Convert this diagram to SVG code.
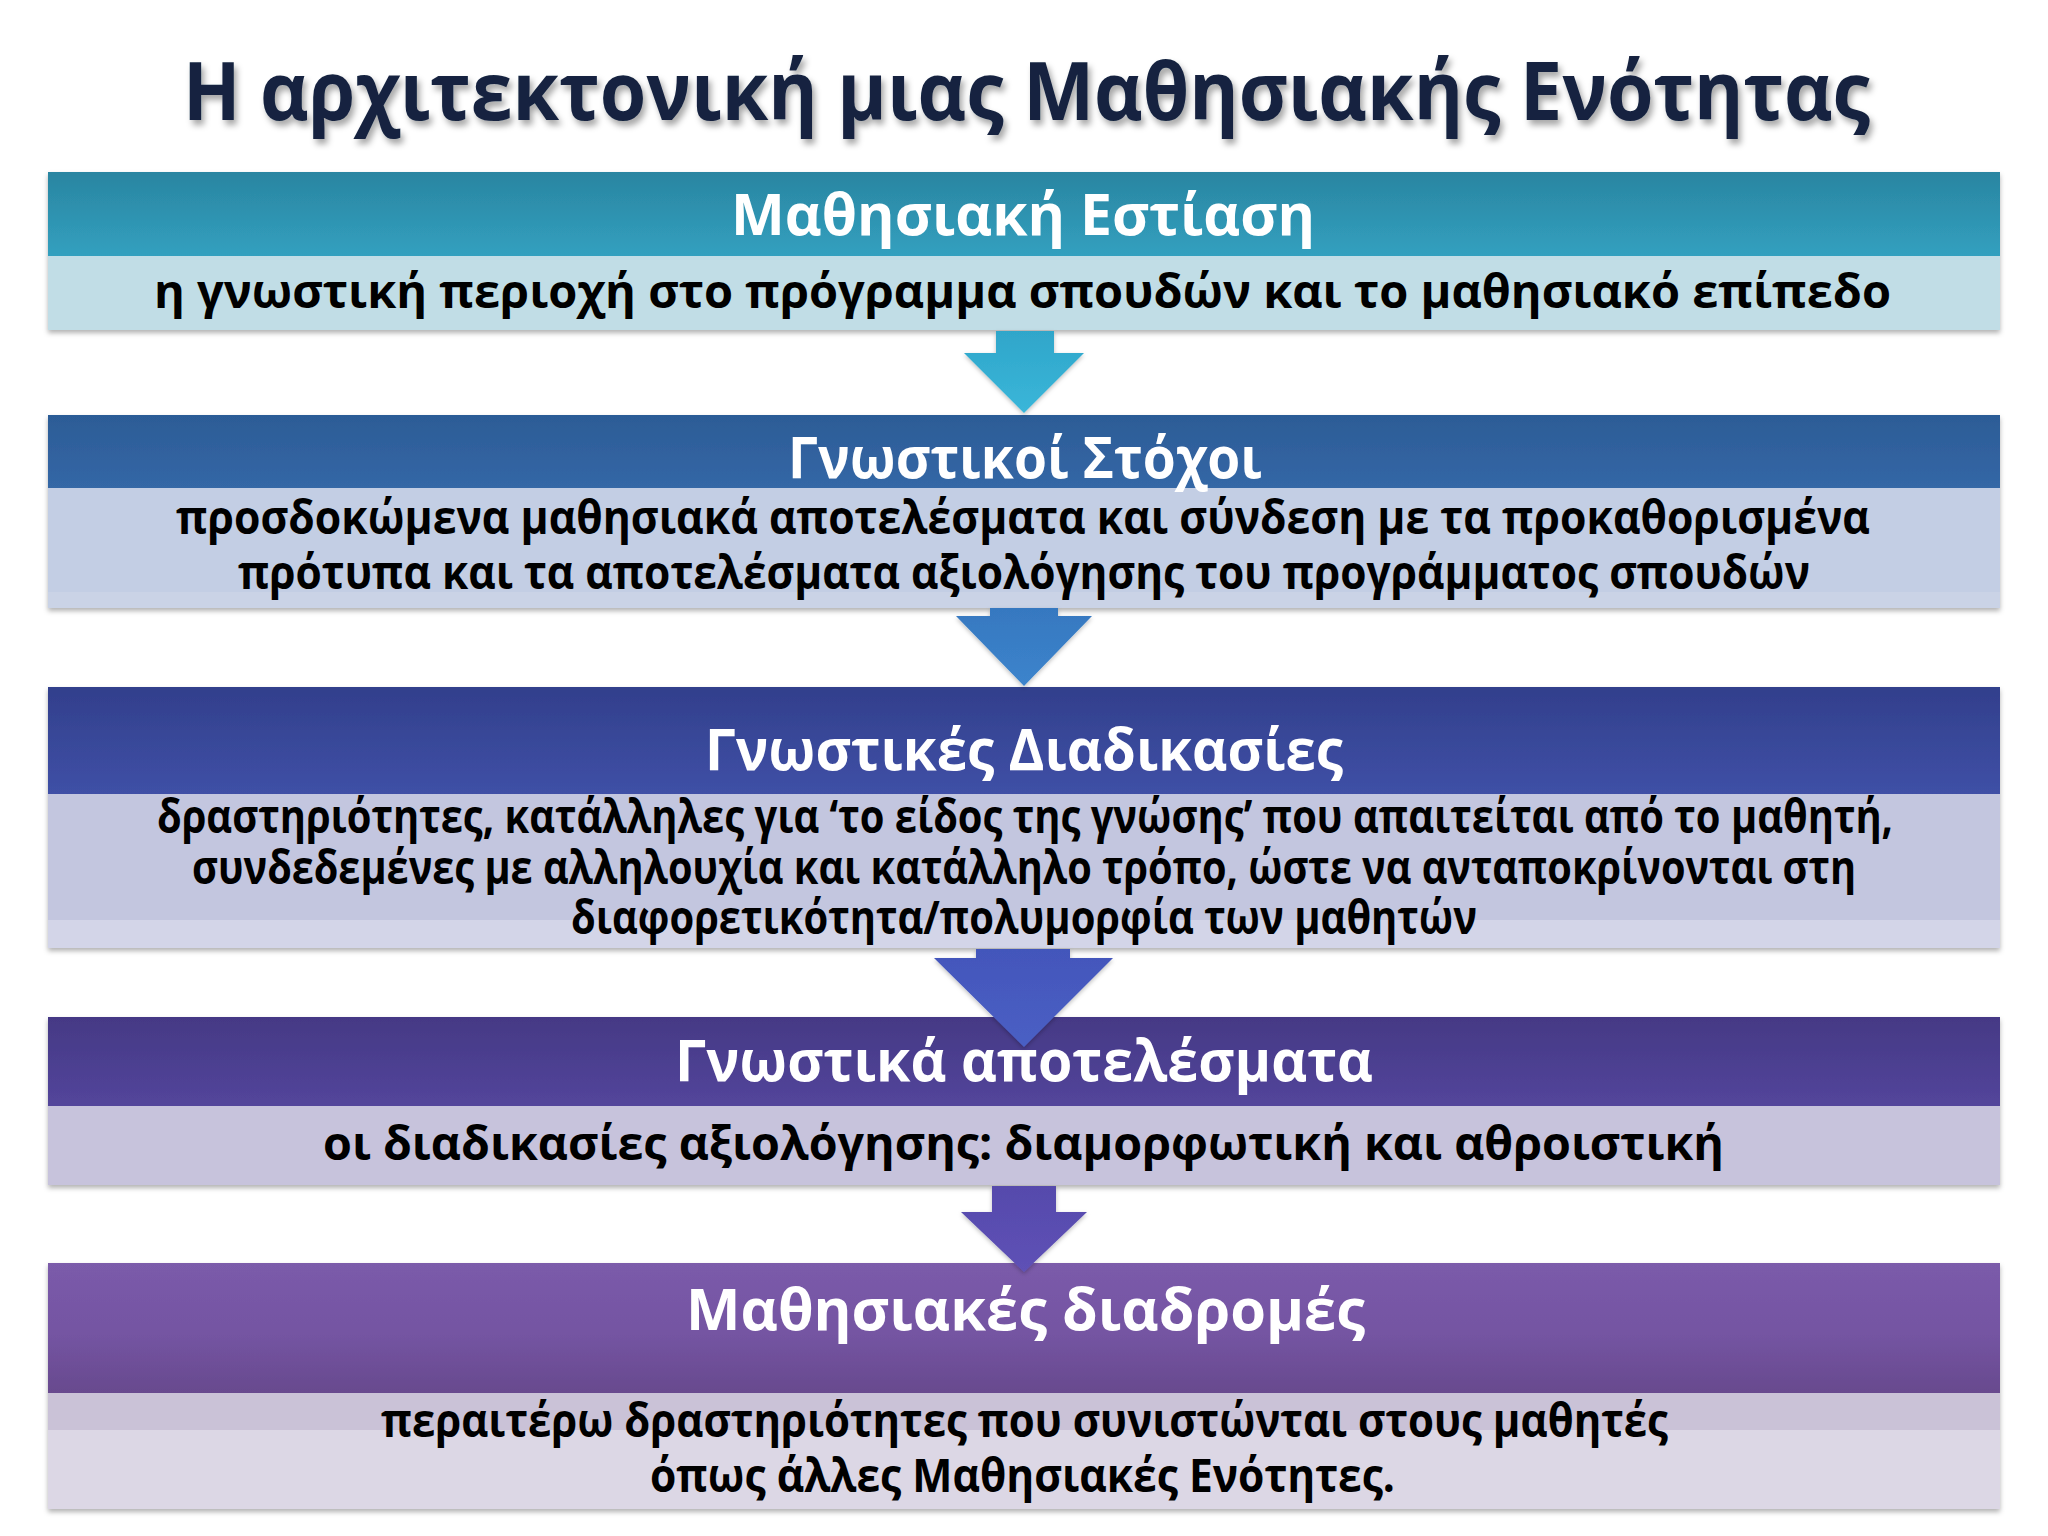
<svg xmlns="http://www.w3.org/2000/svg" width="2048" height="1536" viewBox="0 0 2048 1536">
<defs>
<style>
.title{font-family:"Open Sans","DejaVu Sans",sans-serif;font-weight:700;font-size:80px;fill:#14233f}
.hd{font-family:"Open Sans","DejaVu Sans",sans-serif;font-weight:700;font-size:58px;fill:#ffffff}
.bd{font-family:"Open Sans","DejaVu Sans",sans-serif;font-weight:700;font-size:46px;fill:#000000}
</style>
<filter id="tsh" x="-5%" y="-30%" width="110%" height="160%">
<feDropShadow dx="3" dy="5" stdDeviation="3" flood-color="#000" flood-opacity="0.35"/>
</filter>
<filter id="bsh" x="-2%" y="-10%" width="104%" height="130%">
<feDropShadow dx="0" dy="3" stdDeviation="2.5" flood-color="#000" flood-opacity="0.3"/>
</filter>
<filter id="ash" x="-20%" y="-20%" width="140%" height="140%">
<feDropShadow dx="0" dy="2" stdDeviation="2" flood-color="#000" flood-opacity="0.25"/>
</filter>
<linearGradient id="g1" x1="0" y1="0" x2="0" y2="1"><stop offset="0" stop-color="#2a85a1"/><stop offset="1" stop-color="#32a0bf"/></linearGradient>
<linearGradient id="g2" x1="0" y1="0" x2="0" y2="1"><stop offset="0" stop-color="#2c5c96"/><stop offset="1" stop-color="#3467a6"/></linearGradient>
<linearGradient id="g3" x1="0" y1="0" x2="0" y2="1"><stop offset="0" stop-color="#323f8c"/><stop offset="1" stop-color="#3f50a6"/></linearGradient>
<linearGradient id="g4" x1="0" y1="0" x2="0" y2="1"><stop offset="0" stop-color="#453985"/><stop offset="1" stop-color="#53459b"/></linearGradient>
<linearGradient id="g5" x1="0" y1="0" x2="0" y2="1"><stop offset="0" stop-color="#7b5baa"/><stop offset="0.55" stop-color="#7454a2"/><stop offset="1" stop-color="#684a8e"/></linearGradient>
<linearGradient id="ga1" x1="0" y1="0" x2="0" y2="1"><stop offset="0" stop-color="#2fa6ca"/><stop offset="1" stop-color="#3ab6d9"/></linearGradient>
<linearGradient id="ga2" x1="0" y1="0" x2="0" y2="1"><stop offset="0" stop-color="#3678c0"/><stop offset="1" stop-color="#3c84cc"/></linearGradient>
<linearGradient id="ga3" x1="0" y1="0" x2="0" y2="1"><stop offset="0" stop-color="#4356bb"/><stop offset="1" stop-color="#4a5fc4"/></linearGradient>
<linearGradient id="ga4" x1="0" y1="0" x2="0" y2="1"><stop offset="0" stop-color="#564aac"/><stop offset="1" stop-color="#5e51b6"/></linearGradient>
</defs>
<rect x="0" y="0" width="2048" height="1536" fill="#ffffff"/>

<g id="title">
<text class="title" x="183" y="120" textLength="1687" lengthAdjust="spacingAndGlyphs" filter="url(#tsh)">Η αρχιτεκτονική μιας Μαθησιακής Ενότητας</text>
</g>

<g id="node1">
<g filter="url(#bsh)">
<rect x="48" y="172" width="1952" height="84" fill="url(#g1)"/>
<rect x="48" y="256" width="1952" height="74" fill="#c1dde6"/>
</g>
<text class="hd" x="731" y="235" textLength="584" lengthAdjust="spacingAndGlyphs">Μαθησιακή Εστίαση</text>
<text class="bd" x="154" y="308" textLength="1737" lengthAdjust="spacingAndGlyphs">η γνωστική περιοχή στο πρόγραμμα σπουδών και το μαθησιακό επίπεδο</text>
</g>

<g id="node2">
<g filter="url(#bsh)">
<rect x="48" y="415" width="1952" height="73" fill="url(#g2)"/>
<rect x="48" y="488" width="1952" height="120" fill="#c3cee4"/>
<rect x="48" y="592" width="1952" height="16" fill="#cad3e6"/>
</g>
<text class="hd" x="788" y="478" textLength="474" lengthAdjust="spacingAndGlyphs">Γνωστικοί Στόχοι</text>
<text class="bd" x="176" y="534" textLength="1694" lengthAdjust="spacingAndGlyphs">προσδοκώμενα μαθησιακά αποτελέσματα και σύνδεση με τα προκαθορισμένα</text>
<text class="bd" x="238" y="589" textLength="1572" lengthAdjust="spacingAndGlyphs">πρότυπα και τα αποτελέσματα αξιολόγησης του προγράμματος σπουδών</text>
</g>

<g id="node3">
<g filter="url(#bsh)">
<rect x="48" y="687" width="1952" height="107" fill="url(#g3)"/>
<rect x="48" y="794" width="1952" height="154" fill="#c3c6df"/>
<rect x="48" y="920" width="1952" height="28" fill="#d3d5e8"/>
</g>
<text class="hd" x="705" y="770" textLength="638" lengthAdjust="spacingAndGlyphs">Γνωστικές Διαδικασίες</text>
<text class="bd" x="157" y="833" textLength="1736" lengthAdjust="spacingAndGlyphs">δραστηριότητες, κατάλληλες για ‘το είδος της γνώσης’ που απαιτείται από το μαθητή,</text>
<text class="bd" x="192" y="884" textLength="1664" lengthAdjust="spacingAndGlyphs">συνδεδεμένες με αλληλουχία και κατάλληλο τρόπο, ώστε να ανταποκρίνονται στη</text>
<text class="bd" x="571" y="934" textLength="906" lengthAdjust="spacingAndGlyphs">διαφορετικότητα/πολυμορφία των μαθητών</text>
</g>

<g id="node4">
<g filter="url(#bsh)">
<rect x="48" y="1017" width="1952" height="89" fill="url(#g4)"/>
<rect x="48" y="1106" width="1952" height="79" fill="#c7c3dc"/>
</g>
<text class="hd" x="675" y="1081" textLength="698" lengthAdjust="spacingAndGlyphs">Γνωστικά αποτελέσματα</text>
<text class="bd" x="323" y="1160" textLength="1401" lengthAdjust="spacingAndGlyphs">οι διαδικασίες αξιολόγησης: διαμορφωτική και αθροιστική</text>
</g>

<g id="node5">
<g filter="url(#bsh)">
<rect x="48" y="1263" width="1952" height="130" fill="url(#g5)"/>
<rect x="48" y="1393" width="1952" height="116" fill="#cac2d7"/>
<rect x="48" y="1430" width="1952" height="79" fill="#dcd7e5"/>
</g>
<text class="hd" x="686" y="1330" textLength="679" lengthAdjust="spacingAndGlyphs">Μαθησιακές διαδρομές</text>
<text class="bd" x="381" y="1437" textLength="1287" lengthAdjust="spacingAndGlyphs">περαιτέρω δραστηριότητες που συνιστώνται στους μαθητές</text>
<text class="bd" x="650" y="1492" textLength="745" lengthAdjust="spacingAndGlyphs">όπως άλλες Μαθησιακές Ενότητες.</text>
</g>

<g id="connectors" filter="url(#ash)">
<path d="M996,331 H1054 V353 H1084 L1024,413 L964,353 H996 Z" fill="url(#ga1)"/>
<path d="M990,608 H1058 V616 H1092 L1024,686 L956,616 H990 Z" fill="url(#ga2)"/>
<path d="M976,949 H1070 V958 H1113 L1024,1047 L934,958 H976 Z" fill="url(#ga3)"/>
<path d="M992,1186 H1056 V1212 H1087 L1024,1272 L961,1212 H992 Z" fill="url(#ga4)"/>
</g>
</svg>
